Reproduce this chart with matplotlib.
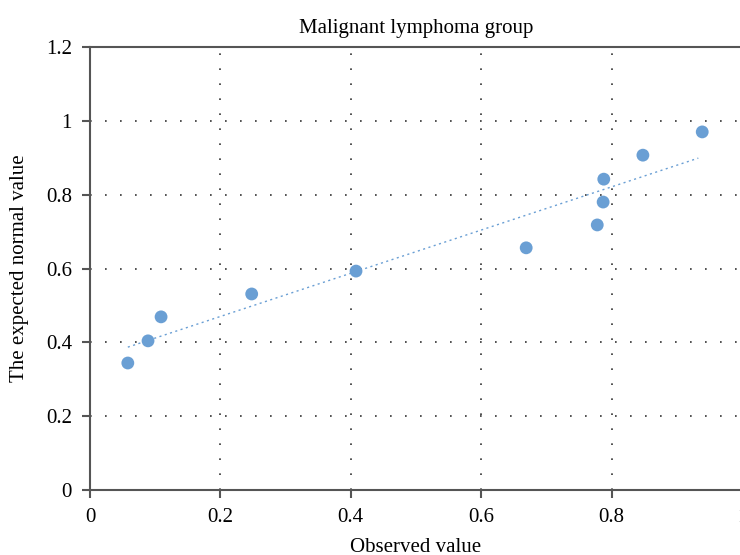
import matplotlib
matplotlib.use('Agg')
import matplotlib.pyplot as plt
import numpy as np

plt.rcParams['font.family'] = ['Liberation Serif', 'DejaVu Serif']

# observed vs expected normal values
obs = [0.058, 0.089, 0.109, 0.248, 0.408, 0.669, 0.778, 0.787, 0.788, 0.848, 0.939]
expected = [0.344, 0.404, 0.469, 0.531, 0.593, 0.656, 0.718, 0.780, 0.842, 0.907, 0.970]

# trend line end points
line_x = [0.058, 0.933]
line_y = [0.387, 0.899]

xticks = [0, 0.2, 0.4, 0.6, 0.8, 1.0]
xtick_labels = ['0', '0.2', '0.4', '0.6', '0.8', '1']
yticks = [0, 0.2, 0.4, 0.6, 0.8, 1.0, 1.2]
ytick_labels = ['0', '0.2', '0.4', '0.6', '0.8', '1', '1.2']

fig = plt.figure(figsize=(7.4, 5.55), dpi=100)
ax = fig.add_axes([90/740, 65/555, 652/740, 443/555])

ax.plot(line_x, line_y, color='#6a9fd4', linestyle=(0, (1.5, 2.5)), linewidth=1.0, zorder=2)
ax.scatter(obs, expected, s=85, color='#6a9fd4', edgecolors='none', zorder=3)

ax.set_xlim(0, 1)
ax.set_ylim(0, 1.2)
ax.set_xticks(xticks)
ax.set_xticklabels(xtick_labels)
ax.set_yticks(yticks)
ax.set_yticklabels(ytick_labels)

ax.grid(True, color='#333333', linestyle=(0, (1, 8)), linewidth=1.2)
ax.set_axisbelow(True)

for s in ax.spines.values():
    s.set_color('#555555')
    s.set_linewidth(1.5)
ax.spines['right'].set_visible(False)

ax.tick_params(axis='both', direction='out', length=6, width=1.5, color='#555555',
               labelsize=15, pad=7)

ax.set_title('Malignant lymphoma group', fontsize=15, pad=10)
ax.set_xlabel('Observed value', fontsize=15, labelpad=8)
ax.set_ylabel('The expected normal value', fontsize=15, labelpad=12)

fig.savefig('out.png', dpi=100)
